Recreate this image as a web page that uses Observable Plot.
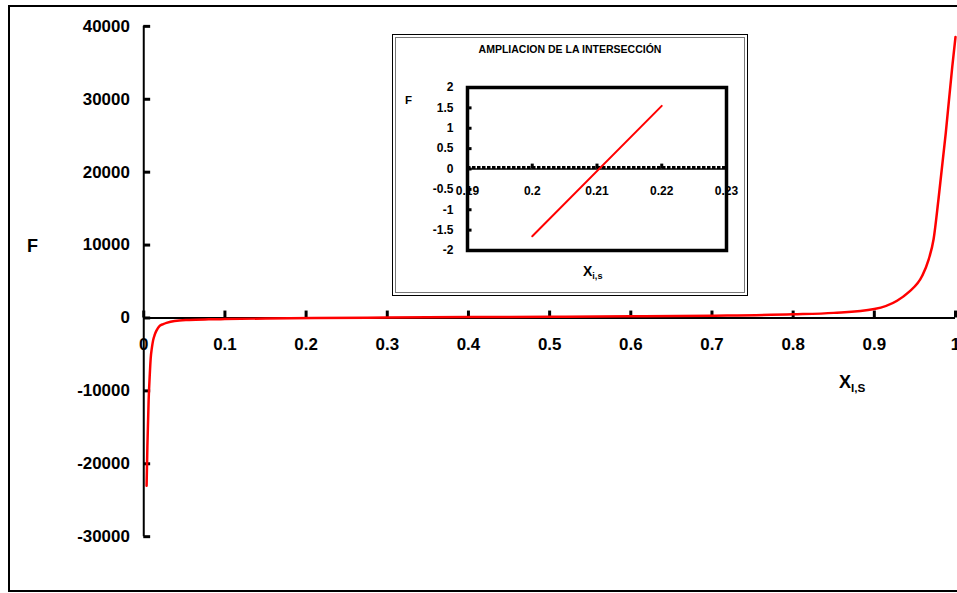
<!DOCTYPE html>
<html><head><meta charset="utf-8">
<script src="https://cdn.jsdelivr.net/npm/d3@7"></script>
<script src="https://cdn.jsdelivr.net/npm/@observablehq/plot@0.6"></script>
<style>
html,body{margin:0;padding:0;overflow:hidden;background:#fff;width:957px;height:593px}
body{position:relative;font-family:"Liberation Sans",Arial,sans-serif;font-weight:bold;color:#000}
#main{position:absolute;left:0;top:0}
#frame{position:absolute;left:8px;top:5px;width:970px;height:587px;border:2px solid #000;box-sizing:border-box;pointer-events:none}
#inset{position:absolute;left:392px;top:34px;width:356px;height:262px;border:1px solid #000;box-shadow:inset 0 0 0 2px #fff, inset 0 0 0 3px #777;box-sizing:border-box;background:#fff}
#insetPlot{position:absolute;left:0;top:0}
.lbl{position:absolute;white-space:nowrap;line-height:1}
.lbl sub{font-size:0.65em;vertical-align:baseline;position:relative;top:0.35em}
</style>
</head><body>
<div id="main"></div>
<div id="frame"></div>
<div id="inset"><div id="insetPlot"></div>
</div>
<div class="lbl" style="left:27px;top:237px;font-size:18px">F</div>
<div class="lbl" style="left:839px;top:373px;font-size:18px">X<sub>I,S</sub></div>
<div class="lbl" style="left:392px;top:44px;width:356px;text-align:center;font-size:10.5px">AMPLIACION DE LA INTERSECCIÓN</div>
<div class="lbl" style="left:405px;top:95px;font-size:11.5px">F</div>
<div class="lbl" style="left:583px;top:264px;font-size:14px">X<sub>i,s</sub></div>
<script>
// Main chart data
const xTicks = [0, 0.1, 0.2, 0.3, 0.4, 0.5, 0.6, 0.7, 0.8, 0.9, 1];
const xTickLabels = ["0", "0.1", "0.2", "0.3", "0.4", "0.5", "0.6", "0.7", "0.8", "0.9", "1"];
const yTicks = [-30000, -20000, -10000, 0, 10000, 20000, 30000, 40000];
const yTickLabels = ["-30000", "-20000", "-10000", "0", "10000", "20000", "30000", "40000"];
const curveX = [0.0035, 0.0045, 0.006, 0.0075, 0.0086, 0.0100, 0.0114, 0.0135, 0.0155, 0.0196, 0.024, 0.028, 0.038, 0.056, 0.08, 0.1, 0.15, 0.21, 0.3, 0.4, 0.5, 0.6, 0.7, 0.8, 0.85, 0.9, 0.928, 0.942, 0.959, 0.967, 0.973, 0.979, 0.988, 0.996, 1.0];
const curveF = [-23000, -17500, -11300, -7600, -5460, -4100, -3140, -2300, -1770, -1090, -850, -680, -410, -270, -190, -150, -70, 0, 60, 120, 170, 230, 320, 500, 700, 1230, 2360, 3510, 5780, 8050, 10790, 16250, 25350, 34440, 38540];

// Inset data
const insetXTicks = [0.19, 0.2, 0.21, 0.22, 0.23];
const insetXTickLabels = ["0.19", "0.2", "0.21", "0.22", "0.23"];
const insetYTicks = [-2, -1.5, -1, -0.5, 0, 0.5, 1, 1.5, 2];
const insetYTickLabels = ["-2", "-1.5", "-1", "-0.5", "0", "0.5", "1", "1.5", "2"];
const insetLineX = [0.2, 0.22];
const insetLineF = [-1.65, 1.55];

const curve = curveX.map((x, i) => ({x, F: curveF[i]}));
const insetLine = insetLineX.map((x, i) => ({x, F: insetLineF[i]}));
const font = "Liberation Sans, Arial, sans-serif";

// tick lengths expressed in each scale's units (about 7px main, 5px inset)
const mainTickX = 0.0085, mainTickY = 950;
const insetTickX = 0.0007, insetTickY = 0.12;

const main = Plot.plot({
  width: 962, height: 593,
  marginLeft: 144, marginRight: 2, marginTop: 26, marginBottom: 54,
  x: {domain: [0, 1], axis: null},
  y: {domain: [-30000, 40000], axis: null},
  style: {fontFamily: font, background: "transparent", overflow: "visible"},
  marks: [
    Plot.ruleX([0], {stroke: "#000", strokeWidth: 2}),
    Plot.ruleY([0], {stroke: "#000", strokeWidth: 2}),
    Plot.ruleY(yTicks, {y: d => d, x1: 0, x2: mainTickX, stroke: "#000", strokeWidth: 3}),
    Plot.ruleX(xTicks, {x: d => d, y1: 0, y2: mainTickY, stroke: "#000", strokeWidth: 3}),
    Plot.line(curve, {x: "x", y: "F", stroke: "#ff0000", strokeWidth: 2.5, curve: "monotone-x"}),
    Plot.text(xTicks, {x: d => d, y: 0, text: (d, i) => xTickLabels[i], dy: 27, fontSize: 17, fontWeight: "bold", fill: "#000"}),
    Plot.text(yTicks, {x: 0, y: d => d, text: (d, i) => yTickLabels[i], dx: -14, textAnchor: "end", fontSize: 17, fontWeight: "bold", fill: "#000"})
  ]
});
document.getElementById("main").appendChild(main);

const inset = Plot.plot({
  width: 354, height: 260,
  marginLeft: 74, marginRight: 21, marginTop: 52, marginBottom: 45,
  x: {domain: [0.19, 0.23], axis: null},
  y: {domain: [-2, 2], axis: null},
  style: {fontFamily: font, background: "transparent", overflow: "visible"},
  marks: [
    Plot.ruleY([0], {stroke: "#000", strokeWidth: 1.5}),
    Plot.ruleY([0], {stroke: "#000", strokeWidth: 3, strokeDasharray: "3.5,1.5", dy: -1.5}),
    Plot.ruleY(insetYTicks, {y: d => d, x1: 0.19, x2: 0.19 + insetTickX, stroke: "#000", strokeWidth: 3}),
    Plot.ruleX(insetXTicks, {x: d => d, y1: 0, y2: insetTickY, stroke: "#000", strokeWidth: 3}),
    Plot.line(insetLine, {x: "x", y: "F", stroke: "#ff0000", strokeWidth: 2}),
    Plot.frame({stroke: "#000", strokeWidth: 3.5}),
    Plot.text(insetXTicks, {x: d => d, y: 0, text: (d, i) => insetXTickLabels[i], dy: 22, fontSize: 12, fontWeight: "bold", fill: "#000"}),
    Plot.text(insetYTicks, {x: 0.19, y: d => d, text: (d, i) => insetYTickLabels[i], dx: -14, textAnchor: "end", fontSize: 12, fontWeight: "bold", fill: "#000"})
  ]
});
document.getElementById("insetPlot").appendChild(inset);
</script>
</body></html>
